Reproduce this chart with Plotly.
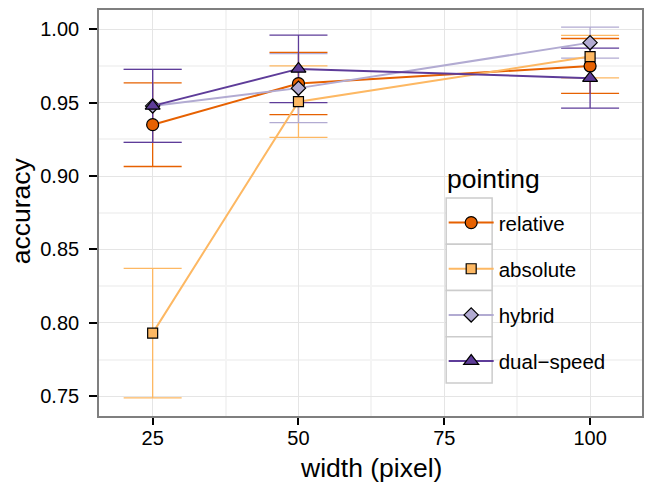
import plotly.graph_objects as go

widths = [25, 50, 100]
series_names = ["relative", "absolute", "hybrid", "dual\u2212speed"]
relative = [0.935, 0.963, 0.975]
relative_err = [0.0285, 0.0212, 0.0187]
absolute = [0.793, 0.9507, 0.9814]
absolute_err = [0.0441, 0.0244, 0.0145]
hybrid = [0.9478, 0.9599, 0.9909]
hybrid_err = [0.0249, 0.0235, 0.0105]
dual_speed = [0.9478, 0.9730, 0.9667]
dual_speed_err = [0.0249, 0.023, 0.0204]

values = [relative, absolute, hybrid, dual_speed]
errors = [relative_err, absolute_err, hybrid_err, dual_speed_err]
colors = ["#e66101", "#fdb863", "#b2abd2", "#5e3c99"]
symbols = ["circle", "square", "diamond", "triangle-up"]
msizes = [12, 10, 11, 13]

FONT = "Liberation Sans, Arial, Helvetica, sans-serif"
TICK_FS = 20
LEG_FS = 20.5
TITLE_FS = 26.5

fig = go.Figure()

# error bars layer
for name, v, e, c in zip(series_names, values, errors, colors):
    fig.add_trace(go.Scatter(
        x=widths, y=v, mode="markers",
        marker=dict(color="rgba(0,0,0,0)", size=1),
        error_y=dict(type="data", array=e, visible=True, color=c, thickness=1.3, width=29),
        showlegend=False, hoverinfo="skip"))

# lines + points
for i, (name, v, c, s, ms) in enumerate(zip(series_names, values, colors, symbols, msizes)):
    fig.add_trace(go.Scatter(
        x=widths, y=v, mode="lines+markers", name=name, legendgroup=f"g{i}",
        line=dict(color=c, width=2),
        marker=dict(color=c, symbol=s, size=ms, line=dict(color="black", width=1.2))))

# pixel -> paper helpers for layout decorations
L, R, T, B = 99, 642.5, 10, 416.5
def px_to_paper_x(px):
    return (px - L) / (R - L)
def px_to_paper_y(py):
    return (B - py) / (B - T)

# legend key boxes (ggplot style)
box_tops = [198.3, 244.6, 290.9, 337.2]
for bt in box_tops:
    fig.add_shape(type="rect", xref="paper", yref="paper",
                  x0=px_to_paper_x(446.5), x1=px_to_paper_x(492.5),
                  y0=px_to_paper_y(bt), y1=px_to_paper_y(bt + 46.3),
                  line=dict(color="#cccccc", width=1.5), fillcolor="white", layer="above")

# titles as annotations
fig.add_annotation(text="pointing", xref="paper", yref="paper",
                   x=px_to_paper_x(445), y=px_to_paper_y(196.5), xanchor="left", yanchor="bottom",
                   showarrow=False, font=dict(size=TITLE_FS, family=FONT, color="black"))
fig.add_annotation(text="width (pixel)", xref="paper", yref="paper",
                   x=0.5, y=px_to_paper_y(485.5), xanchor="center", yanchor="bottom",
                   showarrow=False, font=dict(size=TITLE_FS, family=FONT, color="black"))
fig.add_annotation(text="accuracy", xref="paper", yref="paper", textangle=-90,
                   x=px_to_paper_x(21), y=px_to_paper_y(211.5), xanchor="center", yanchor="middle",
                   showarrow=False, font=dict(size=TITLE_FS, family=FONT, color="black"))

fig.update_layout(
    width=645, height=485,
    margin=dict(l=99, r=2.5, t=10, b=68.5),
    paper_bgcolor="white", plot_bgcolor="white",
    font=dict(family=FONT, color="black"),
    showlegend=True,
    legend=dict(
        font=dict(size=LEG_FS, family=FONT),
        x=px_to_paper_x(444), y=px_to_paper_y(203), xanchor="left", yanchor="top",
        bgcolor="rgba(0,0,0,0)", borderwidth=0,
        tracegroupgap=16.5, itemwidth=45,
    ),
)

fig.update_xaxes(
    range=[15.8, 108.9], tickvals=[25, 50, 75, 100], ticktext=["25", "50", "75", "100"],
    automargin=False,
    showgrid=True, gridcolor="#e5e5e5", gridwidth=1,
    minor=dict(tickvals=[37.5, 62.5, 87.5], showgrid=True, gridcolor="#f4f4f4", gridwidth=2),
    zeroline=False, showline=True, linecolor="#7f7f7f", linewidth=1.6, mirror=True,
    ticks="outside", ticklen=7, tickwidth=2, tickcolor="black", ticklabelstandoff=-4,
    tickfont=dict(size=TICK_FS, family=FONT, color="black"),
)
fig.update_yaxes(
    range=[0.73653, 1.01313], tickvals=[0.75, 0.80, 0.85, 0.90, 0.95, 1.00],
    ticktext=["0.75", "0.80", "0.85", "0.90", "0.95", "1.00"],
    automargin=False,
    showgrid=True, gridcolor="#e5e5e5", gridwidth=1,
    minor=dict(tickvals=[0.775, 0.825, 0.875, 0.925, 0.975], showgrid=True, gridcolor="#f4f4f4", gridwidth=2),
    zeroline=False, showline=True, linecolor="#7f7f7f", linewidth=1.6, mirror=True,
    ticks="outside", ticklen=8, tickwidth=2, tickcolor="black", ticklabelstandoff=6,
    tickfont=dict(size=TICK_FS, family=FONT, color="black"),
)

fig.write_html("out.html", config={"displayModeBar": False},
               post_script="document.body.style.margin='0px';")
